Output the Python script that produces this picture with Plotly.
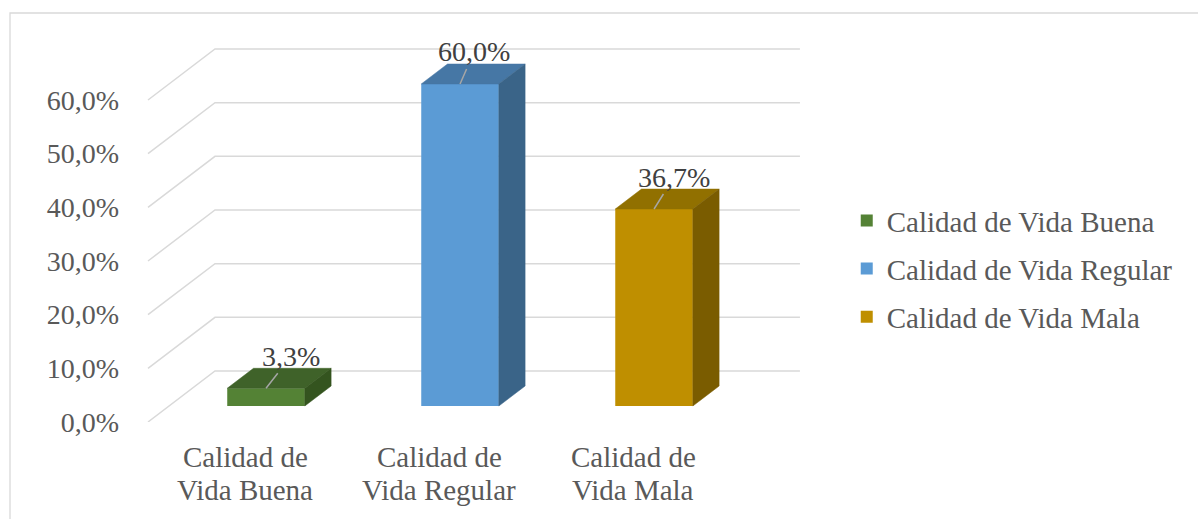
import plotly.graph_objects as go

# --- data -------------------------------------------------------------
categories = ["Calidad de Vida Buena", "Calidad de Vida Regular", "Calidad de Vida Mala"]
values = [3.3, 60.0, 36.7]                     # percent
tick_values = [0, 10, 20, 30, 40, 50, 60]
tick_labels = ["0,0%", "10,0%", "20,0%", "30,0%", "40,0%", "50,0%", "60,0%"]

front_colors = ["#548235", "#5b9bd5", "#bf8f00"]
top_colors = ["#3f6229", "#4677a5", "#917000"]
side_colors = ["#34541f", "#3a6488", "#7a5c00"]

# label offsets (pixels) of the value labels relative to the bar top
label_dx = [25, 14, 20]


def pct(v):
    return f"{v:.1f}%".replace(".", ",")


# --- pseudo 3-D geometry (in axis units) ------------------------------
DEPTH_X = 0.3454      # full floor depth, category units
DEPTH_Y = 9.5         # full floor depth, percent units
F_FRONT = 0.314       # bar front plane, fraction of floor depth
F_BACK = 0.706        # bar back plane
BAR_W = 0.40
X_LEFT, X_RIGHT = -0.5, 2.515

FONT = "Liberation Serif, Times New Roman, serif"
GRID = "#d9d9d9"

fig = go.Figure()

# floor / back-wall gridlines as shapes underneath everything
shapes = []
for v in tick_values:
    x0, y0 = X_LEFT, v
    x1, y1 = X_LEFT + DEPTH_X, v + DEPTH_Y
    x2 = X_RIGHT + DEPTH_X
    shapes.append(dict(type="path", xref="x", yref="y", layer="below",
                       path=f"M{x0},{y0} L{x1},{y1} L{x2},{y1}",
                       line=dict(color=GRID, width=1.5)))

# chart-area border
shapes.append(dict(type="rect", xref="paper", yref="paper", layer="below",
                   x0=-0.1946, y0=-0.27, x1=1.6, y1=1.0434,
                   line=dict(color=GRID, width=1.3)))

fx, fy = F_FRONT * DEPTH_X, F_FRONT * DEPTH_Y
bx, by = (F_BACK - F_FRONT) * DEPTH_X, (F_BACK - F_FRONT) * DEPTH_Y

annotations = []
for i, (name, v) in enumerate(zip(categories, values)):
    cx = i + fx
    base = fy
    xl, xr = cx - BAR_W / 2, cx + BAR_W / 2
    top = base + v

    # front face
    fig.add_trace(go.Bar(x=[cx], y=[v], base=[base], width=BAR_W, name=name,
                         legendgroup=name,
                         marker=dict(color=front_colors[i], line=dict(width=0))))
    # top face
    fig.add_trace(go.Scatter(
        x=[xl, xr, xr + bx, xl + bx, xl], y=[top, top, top + by, top + by, top],
        fill="toself", fillcolor=top_colors[i], mode="lines",
        line=dict(color=top_colors[i], width=0.5), showlegend=False, hoverinfo="skip"))
    # side face
    fig.add_trace(go.Scatter(
        x=[xr, xr + bx, xr + bx, xr, xr], y=[base, base + by, top + by, top, base],
        fill="toself", fillcolor=side_colors[i], mode="lines",
        line=dict(color=side_colors[i], width=0.5), showlegend=False, hoverinfo="skip"))

    # value label with leader line
    annotations.append(dict(x=cx, y=top, xref="x", yref="y", text=pct(v),
                            showarrow=True, arrowhead=0, arrowwidth=1.5,
                            arrowcolor="#a6a6a6", ax=label_dx[i], ay=-32,
                            font=dict(family=FONT, size=28, color="#404040")))

    # two-line category label on the front plane, below the axis
    words = name.split()
    for line, yp in ((" ".join(words[:2]), -0.0893), (" ".join(words[2:]), -0.1735)):
        annotations.append(dict(x=i, y=yp, xref="x", yref="paper", text=line,
                                showarrow=False, yanchor="middle",
                                font=dict(family=FONT, size=29, color="#595959")))

fig.update_layout(
    width=1198, height=519,
    margin=dict(l=140, r=390, t=30, b=97),
    paper_bgcolor="white", plot_bgcolor="white",
    barmode="overlay",
    shapes=shapes, annotations=annotations,
    showlegend=True,
    legend=dict(x=1.058, xanchor="left", y=0.579, yanchor="top",
                font=dict(family=FONT, size=29, color="#595959"),
                tracegroupgap=7.5, bgcolor="rgba(0,0,0,0)"),
    xaxis=dict(range=[-0.5412, 2.902], showgrid=False, zeroline=False,
               showline=False, showticklabels=False, fixedrange=True),
    yaxis=dict(range=[0, 73.04], showgrid=False, zeroline=False, showline=False,
               tickvals=tick_values, ticktext=tick_labels, ticklabelstandoff=20,
               tickfont=dict(family=FONT, size=28, color="#595959"), fixedrange=True),
)

fig.write_html("out.html")
